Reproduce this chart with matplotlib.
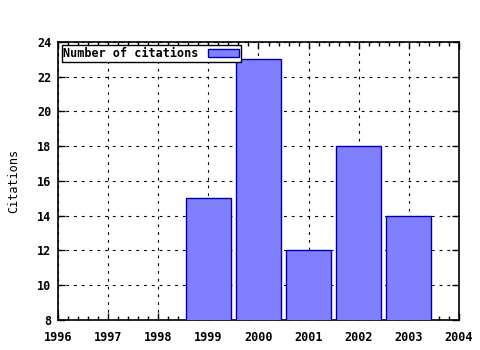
import numpy as np
import matplotlib.pyplot as plt
from matplotlib.ticker import MultipleLocator

years = [1999, 2000, 2001, 2002, 2003]
citations = [15, 23, 12, 18, 14]
x_ticks = [1996, 1997, 1998, 1999, 2000, 2001, 2002, 2003, 2004]
y_ticks = [8, 10, 12, 14, 16, 18, 20, 22, 24]

plt.rcParams['font.family'] = 'DejaVu Sans Mono'
plt.rcParams['font.weight'] = 'bold'
plt.rcParams['font.size'] = 8.5

fig = plt.figure(figsize=(4.8, 3.5), dpi=100)
ax = fig.add_axes([0.121, 0.0857, 0.835, 0.795])

ax.bar(years, citations, width=0.9, bottom=0, color='#8080ff',
       edgecolor='#0000a0', linewidth=1, label='Number of citations', zorder=3)

ax.set_xlim(1996, 2004)
ax.set_ylim(8, 24)
ax.set_xticks(x_ticks)
ax.set_yticks(y_ticks)
ax.xaxis.set_minor_locator(MultipleLocator(0.2))
ax.tick_params(which='both', direction='in', top=True, right=True, width=1)
ax.tick_params(which='major', length=5)
ax.tick_params(which='minor', length=3)
ax.tick_params(axis='x', which='major', pad=8)
ax.tick_params(axis='y', which='major', pad=5)
for s in ax.spines.values():
    s.set_linewidth(1.2)

ax.grid(True, which='major', color='black', linestyle=(0, (2.5, 4.5)), linewidth=0.8, zorder=0)
ax.set_axisbelow(True)
ax.set_ylabel('Citations', labelpad=12)

leg = ax.legend(loc='upper left', markerfirst=False, fancybox=False, shadow=False,
                framealpha=1, edgecolor='black', borderpad=0.15, handlelength=2.6,
                handleheight=0.6, handletextpad=0.8, borderaxespad=0.3)
leg.get_frame().set_linewidth(1)

fig.savefig('out.png', dpi=100)
